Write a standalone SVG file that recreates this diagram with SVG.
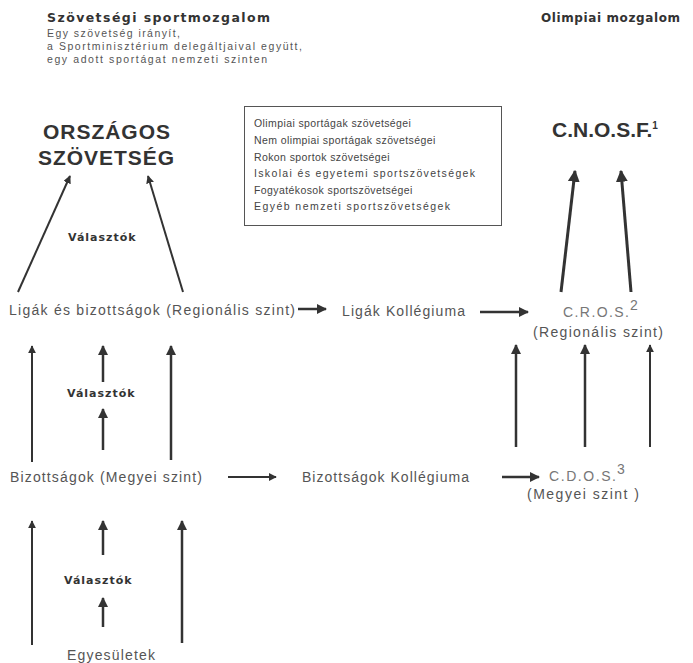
<svg xmlns="http://www.w3.org/2000/svg" width="693" height="663" viewBox="0 0 693 663">
<defs>
<marker id="ah" viewBox="0 0 10 10" refX="9" refY="5" markerWidth="4" markerHeight="4" orient="auto" markerUnits="strokeWidth">
<path d="M0,0 L10,5 L0,10 z" fill="#333"/>
</marker>
<style>
text{font-family:"Liberation Sans",Arial,sans-serif;fill:#444}
.hd{font-family:"DejaVu Sans",Verdana,sans-serif;font-weight:bold;fill:#333}
.sm{font-size:10.5px;fill:#555}
.bx{font-size:10.5px;fill:#444}
.lbl{font-size:14px;fill:#555}
.lt{fill:#777}
.big{font-family:"Liberation Sans",Arial,sans-serif;font-weight:bold;font-size:21px;fill:#333}
.vl{font-family:"DejaVu Sans",Verdana,sans-serif;font-weight:bold;font-size:11px;fill:#333;letter-spacing:1px}
.a{stroke:#333;fill:none;marker-end:url(#ah)}
.t1{stroke-width:2}
.t2{stroke-width:2.5}
.t3{stroke-width:3}
</style>
</defs>
<rect width="693" height="663" fill="#fff"/>
<g id="heading-left">
<text class="hd" x="47" y="22" font-size="12.5" textLength="223" lengthAdjust="spacing">Szövetségi sportmozgalom</text>
<text class="sm" x="47" y="37" textLength="133" lengthAdjust="spacing">Egy szövetség irányít,</text>
<text class="sm" x="47" y="50" textLength="255" lengthAdjust="spacing">a Sportminisztérium delegáltjaival együtt,</text>
<text class="sm" x="47" y="63" textLength="220" lengthAdjust="spacing">egy adott sportágat nemzeti szinten</text>
</g>
<g id="heading-right">
<text class="hd" x="541" y="22" font-size="12" textLength="139" lengthAdjust="spacing">Olimpiai mozgalom</text>
</g>
<g id="orszagos">
<text class="big" x="43" y="139" textLength="127" lengthAdjust="spacing">ORSZÁGOS</text>
<text class="big" x="38" y="165" textLength="136" lengthAdjust="spacing">SZÖVETSÉG</text>
</g>
<g id="box">
<rect x="244.5" y="106.5" width="257" height="119" fill="none" stroke="#555" stroke-width="1"/>
<text class="bx" x="254" y="127" letter-spacing="0.4">Olimpiai sportágak szövetségei</text>
<text class="bx" x="254" y="144" letter-spacing="0.4">Nem olimpiai sportágak szövetségei</text>
<text class="bx" x="254" y="161" letter-spacing="0.4">Rokon sportok szövetségei</text>
<text class="bx" x="254" y="177" textLength="221" lengthAdjust="spacing">Iskolai és egyetemi sportszövetségek</text>
<text class="bx" x="254" y="194" letter-spacing="0.4">Fogyatékosok sportszövetségei</text>
<text class="bx" x="254" y="210" textLength="196" lengthAdjust="spacing">Egyéb nemzeti sportszövetségek</text>
</g>
<g id="cnosf">
<text class="big" x="552" y="137" font-size="18">C.N.O.S.F.<tspan font-size="10" dy="-8">1</tspan></text>
</g>
<g id="ligak">
<text class="lbl" x="9" y="315" textLength="286" lengthAdjust="spacing">Ligák és bizottságok (Regionális szint)</text>
</g>
<g id="ligak-koll">
<text class="lbl" x="342" y="316" textLength="123" lengthAdjust="spacing">Ligák Kollégiuma</text>
</g>
<g id="cros">
<text class="lbl lt" x="563" y="317" textLength="66" lengthAdjust="spacing">C.R.O.S.</text>
<text class="lbl lt" x="630" y="310" font-size="9">2</text>
<text class="lbl" x="533" y="337" textLength="130" lengthAdjust="spacing">(Regionális szint)</text>
</g>
<g id="bizottsagok">
<text class="lbl" x="10" y="482" textLength="192" lengthAdjust="spacing">Bizottságok (Megyei szint)</text>
</g>
<g id="biz-koll">
<text class="lbl" x="302" y="482" textLength="167" lengthAdjust="spacing">Bizottságok Kollégiuma</text>
</g>
<g id="cdos">
<text class="lbl lt" x="549" y="481" textLength="67" lengthAdjust="spacing">C.D.O.S.</text>
<text class="lbl lt" x="617" y="474" font-size="9">3</text>
<text class="lbl" x="527" y="499" textLength="112" lengthAdjust="spacing">(Megyei szint )</text>
</g>
<g id="egyesuletek">
<text class="lbl" x="67" y="660" font-size="15" textLength="88" lengthAdjust="spacing">Egyesületek</text>
</g>
<g id="valasztok">
<text class="vl" x="68" y="241">Választók</text>
<text class="vl" x="67" y="397">Választók</text>
<text class="vl" x="64" y="584">Választók</text>
</g>
<g id="connectors">
<line class="a t1" x1="18" y1="292" x2="70" y2="176"/>
<line class="a t1" x1="183" y1="292" x2="148" y2="176"/>
<line class="a t3" x1="561" y1="292" x2="575" y2="171"/>
<line class="a t3" x1="631" y1="292" x2="621" y2="171"/>
<line class="a t2" x1="298" y1="309" x2="326" y2="309"/>
<line class="a t2" x1="480" y1="312" x2="528" y2="312"/>
<line class="a t1" x1="32" y1="462" x2="32" y2="346"/>
<line class="a t2" x1="103" y1="382" x2="103" y2="346"/>
<line class="a t2" x1="103" y1="450" x2="103" y2="409"/>
<line class="a t2" x1="171" y1="460" x2="171" y2="346"/>
<line class="a t1" x1="228" y1="477" x2="276" y2="477"/>
<line class="a t2" x1="502" y1="477" x2="539" y2="477"/>
<line class="a t2" x1="516" y1="447" x2="516" y2="345"/>
<line class="a t2" x1="585" y1="447" x2="585" y2="345"/>
<line class="a t1" x1="650" y1="447" x2="650" y2="345"/>
<line class="a t1" x1="32" y1="645" x2="32" y2="521"/>
<line class="a t2" x1="103" y1="555" x2="103" y2="521"/>
<line class="a t2" x1="103" y1="627" x2="103" y2="598"/>
<line class="a t2" x1="182" y1="643" x2="182" y2="521"/>
</g>
</svg>
